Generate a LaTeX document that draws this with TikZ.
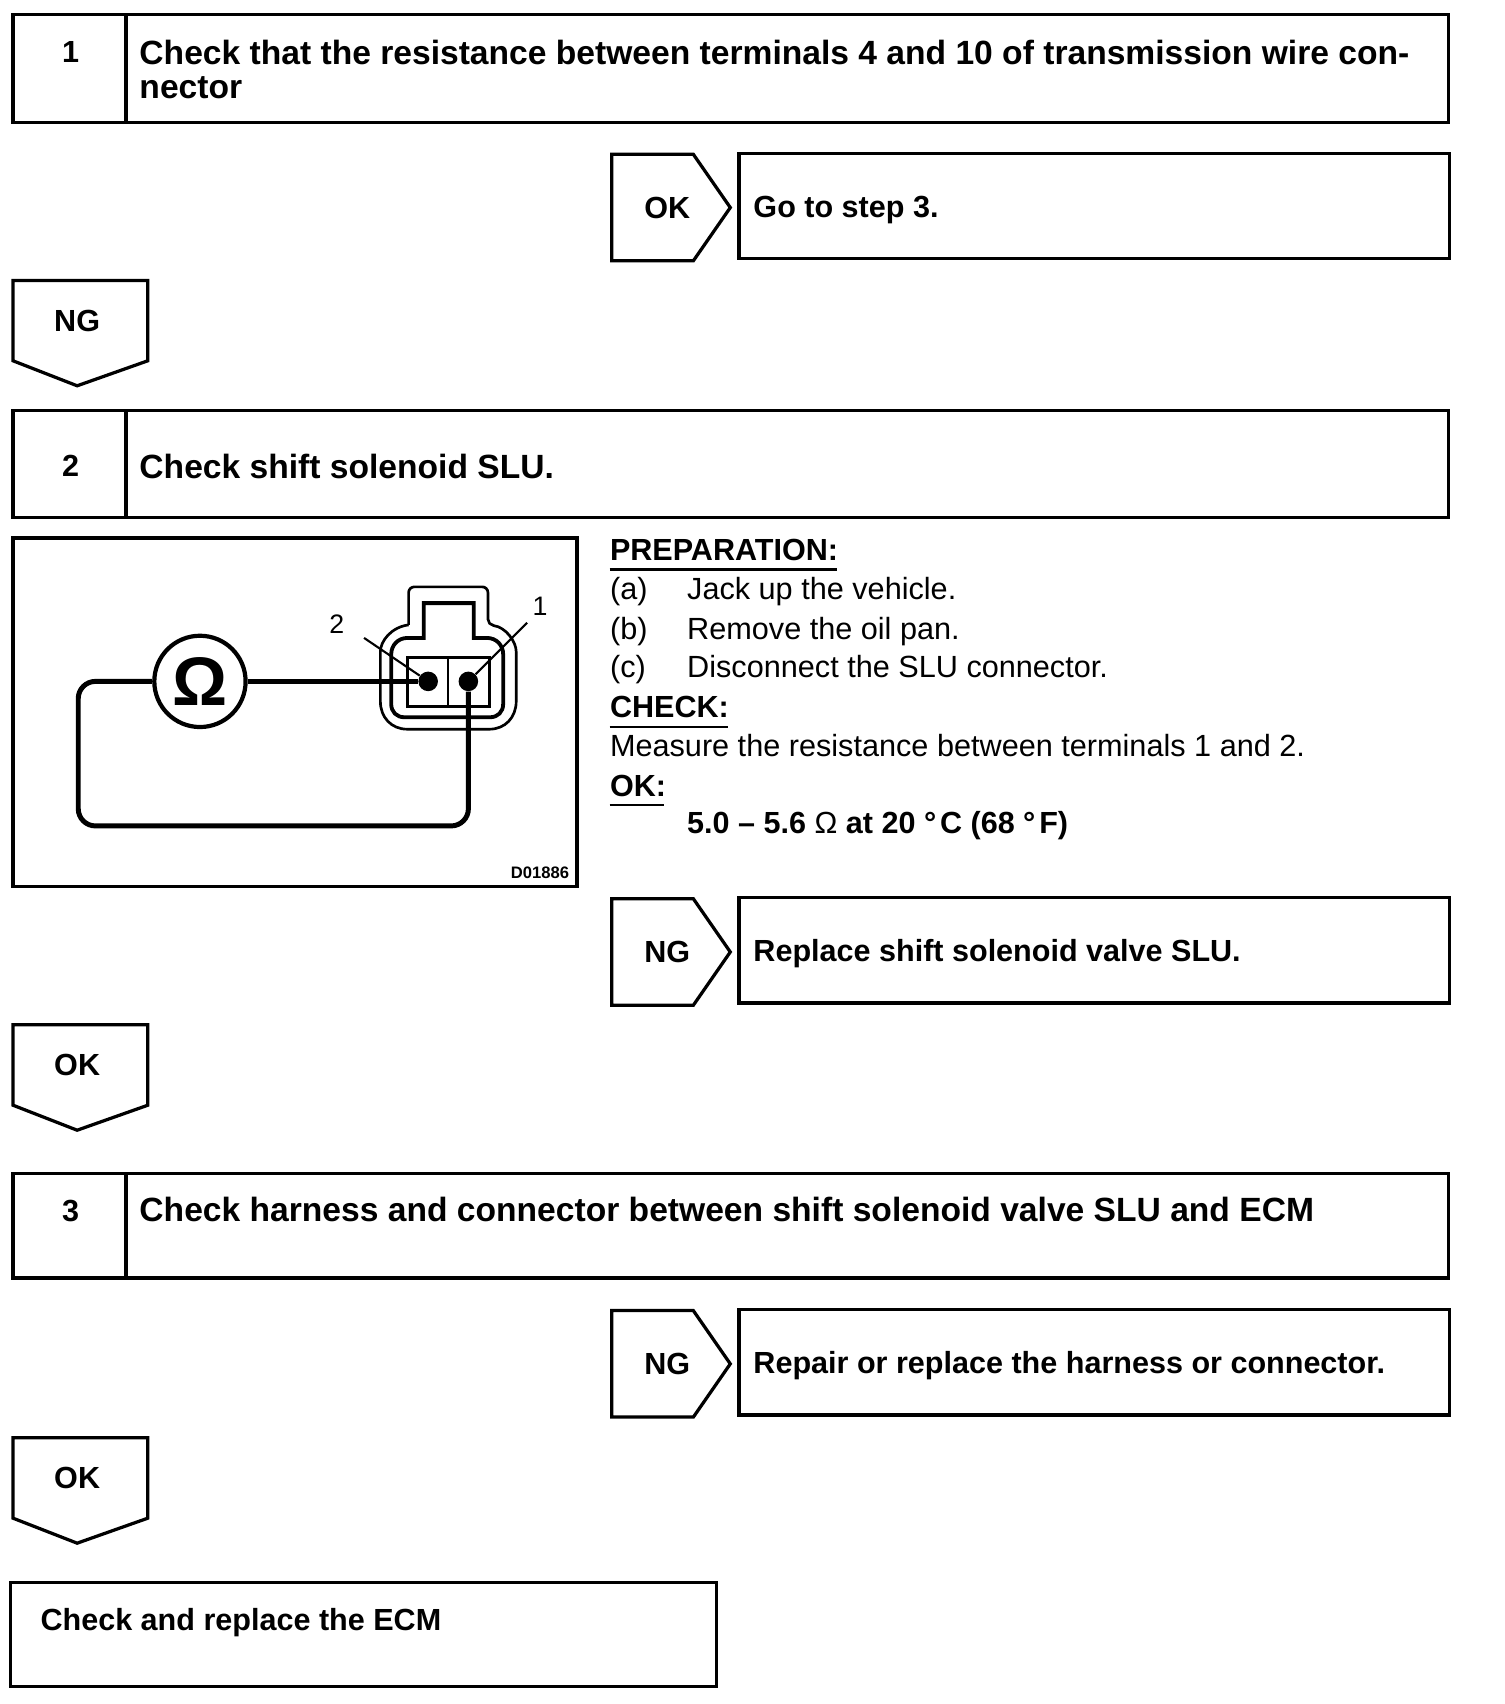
\documentclass[tikz,border=0pt]{standalone}
\usepackage{fontspec}
\setmainfont{Liberation Sans}
\tikzset{
  frame/.style={draw,line width=1.7pt,line join=miter},
  wire/.style={line width=2.6pt,rounded corners=9pt},
  thin line/.style={line width=1.1pt},
  txt/.style={anchor=west,inner sep=0pt,text height=11.5pt,text depth=0pt,font=\fontsize{16.05}{19}\selectfont},
  head/.style={txt,font=\fontsize{16}{19}\selectfont\bfseries},
  title/.style={txt,text height=12.6pt,font=\fontsize{17.6}{19}\selectfont\bfseries},
  tag/.style={inner sep=0pt,font=\fontsize{16}{20}\selectfont\bfseries},
  rule/.style={line width=1.1pt},
  pin/.style={circle,fill,inner sep=0pt,minimum size=18*0.02cm}
}
\begin{document}
\begin{tikzpicture}[x=0.02cm,y=-0.02cm]
  \useasboundingbox (0,0) rectangle (1384,1568);
  % step boxes
  \foreach \t/\b/\n/\ty in {13/113/1/48, 378/476/2/429, 1080/1176/3/1114} {
    \draw[frame] (12,\t) rectangle (1333,\b);
    \draw[frame] (116,\t) -- (116,\b);
    \node[tag] (num\n) at (65,\ty) {\n};
  }
  \node[title] (title1) at (128,48) {Check that the resistance between terminals 4 and 10 of transmission wire con-};
  \node[title] (title1b) at (128,80) {nector};
  \node[title] (title2) at (128,429) {Check shift solenoid SLU.};
  \node[title] (title3) at (128,1113) {Check harness and connector between shift solenoid valve SLU and ECM};
  % side tags and result boxes
  \foreach \t/\lab/\n/\res in {141/OK/a/Go to step 3., 826/NG/b/Replace shift solenoid valve SLU., 1205/NG/c/Repair or replace the harness or connector.} {
    \draw[frame] (563,\t+1) -- (638,\t+1) -- (672,\t+50) -- (638,\t+99) -- (563,\t+99) -- cycle;
    \node[tag] (side\n) at (614,\t+50) {\lab};
    \draw[frame] (680,\t) rectangle (1334,\t+97);
    \node[head] (res\n) at (693,\t+49) {\res};
  }
  % down tags
  \foreach \t/\lab/\n in {258/NG/a, 943/OK/b, 1323/OK/c} {
    \draw[frame] (12,\t) -- (136,\t) -- (136,\t+74) -- (71,\t+97) -- (12,\t+74) -- cycle;
    \node[tag] (down\n) at (71,\t+37) {\lab};
  }
  % last box
  \draw[frame] (10,1456) rectangle (659,1552);
  \node[head] (last) at (37,1490) {Check and replace the ECM};
  % figure
  \draw[frame] (12,495) rectangle (531,816);
  \node[draw,circle,line width=2.2pt,minimum size=84*0.02cm,inner sep=0pt,font=\fontsize{36}{36}\selectfont\bfseries] (meter) at (184,627) {Ω};
  \node[pin] (pin2) at (394,627) {};
  \node[pin] (pin1) at (431,627) {};
  \draw[line width=2.6pt] (meter.east) -- (pin2);
  \draw[wire] (meter.west) -| (72,760) -| (pin1);
  \draw[line width=1.4pt,rounded corners=3pt] (376,575) |- (449,540) -- (449,575)
    .. controls (465,577) and (475,590) .. (475,605) -- (475,640)
    .. controls (475,660) and (465,671) .. (445,671) -- (380,671)
    .. controls (360,671) and (350,660) .. (350,640) -- (350,605)
    .. controls (350,590) and (360,577) .. (376,575);
  \draw[line width=2pt] (390,587) -- (390,555) -- (436,555) -- (436,587) -- (448,587)
    .. controls (457,587) and (463,594) .. (463,602) -- (463,648)
    .. controls (463,655) and (458,660) .. (451,660) -- (372,660)
    .. controls (365,660) and (360,655) .. (360,648) -- (360,602)
    .. controls (360,594) and (366,587) .. (375,587) -- cycle;
  \draw[line width=1.6pt] (375,605) rectangle (450,650);
  \draw[line width=1.2pt] (412,605) -- (412,650);
  \coordinate (lead2) at (335,587);
  \coordinate (lead1) at (485,573);
  \draw[thin line] (lead2) -- (pin2);
  \draw[thin line] (lead1) -- (pin1);
  \node[inner sep=0pt,font=\fontsize{14}{16}\selectfont] (lab2) at (310,574) {2};
  \node[inner sep=0pt,font=\fontsize{14}{16}\selectfont] (lab1) at (497,558) {1};
  \node[anchor=east,inner sep=0pt,font=\fontsize{8.7}{10}\selectfont\bfseries] (code) at (524,803) {D01886};
  % text beside the figure
  \node[head] (prep) at (561,506) {PREPARATION:};
  \draw[rule] (561,524) -- (770,524);
  \node[txt] (ia) at (561,542) {(a)};
  \node[txt] (ta) at (632,542) {Jack up the vehicle.};
  \node[txt] (ib) at (561,578) {(b)};
  \node[txt] (tb) at (632,578) {Remove the oil pan.};
  \node[txt] (ic) at (561,613) {(c)};
  \node[txt] (tc) at (632,613) {Disconnect the SLU connector.};
  \node[head] (chk) at (561,650) {CHECK:};
  \draw[rule] (561,669) -- (670,669);
  \node[txt] (meas) at (561,686) {Measure the resistance between terminals 1 and 2.};
  \node[head] (okh) at (561,723) {OK:};
  \draw[rule] (561,741) -- (611,741);
  \node[head] (okv) at (632,757) {5.0 – 5.6 {\mdseries Ω} at 20 °\kern2pt C (68 °\kern2pt F)};
\end{tikzpicture}
\end{document}
